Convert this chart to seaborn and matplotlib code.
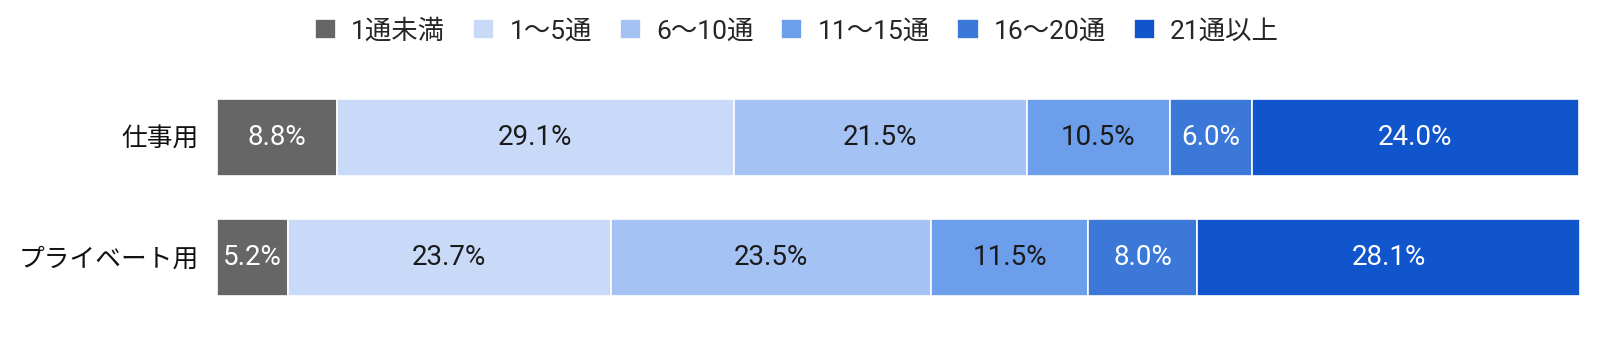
import matplotlib
matplotlib.use("Agg")
import matplotlib.pyplot as plt
import seaborn as sns
import numpy as np

categories = ["仕事用", "プライベート用"]
series_names = ["1通未満", "1～5通", "6～10通", "11～15通", "16～20通", "21通以上"]
work_values = [8.8, 29.1, 21.5, 10.5, 6.0, 24.0]
private_values = [5.2, 23.7, 23.5, 11.5, 8.0, 28.1]

colors = ["#666666", "#c9daf8", "#a4c2f4", "#6d9eeb", "#3c78d8", "#1155cc"]
label_colors = ["white", "#1a1a1a", "#1a1a1a", "#1a1a1a", "white", "white"]

sns.set_theme(style="white")
plt.rcParams["font.family"] = ["Roboto", "Noto Sans CJK JP", "DejaVu Sans"]

fig = plt.figure(figsize=(16, 3.55), dpi=100)
ax = fig.add_axes([217 / 1600, 1 - 317.5 / 355, (1580 - 217) / 1600, 240 / 355])

values = np.array([work_values, private_values])
lefts = np.zeros(len(categories))
for i, name in enumerate(series_names):
    sns.barplot(x=values[:, i], y=categories, left=lefts, orient="h", ax=ax,
                color=colors[i], width=0.64, edgecolor="white", linewidth=1.2,
                label=name, saturation=1)
    cont = ax.containers[-1]
    ax.bar_label(cont, labels=[f"{v:.1f}%" for v in values[:, i]],
                 label_type="center", color=label_colors[i], fontsize=20)
    lefts = lefts + values[:, i]

ax.set_xlim(0, 100)
ax.set_ylim(1.5, -0.5)
ax.set_xlabel("")
ax.set_ylabel("")
ax.set_xticks([])
ax.tick_params(axis="y", length=0, pad=13, labelsize=18.5, labelcolor="#111111")
for s in ax.spines.values():
    s.set_visible(False)

handles, labels = ax.get_legend_handles_labels()
if ax.get_legend() is not None:
    ax.get_legend().remove()
fig.legend(handles, labels, loc="center", bbox_to_anchor=(797 / 1600, 1 - 31 / 355),
           ncol=6, frameon=False, fontsize=19, handlelength=0.8, handleheight=0.8,
           handletextpad=0.57, columnspacing=1.06, borderpad=0, borderaxespad=0)

fig.savefig("out.png", dpi=100)
